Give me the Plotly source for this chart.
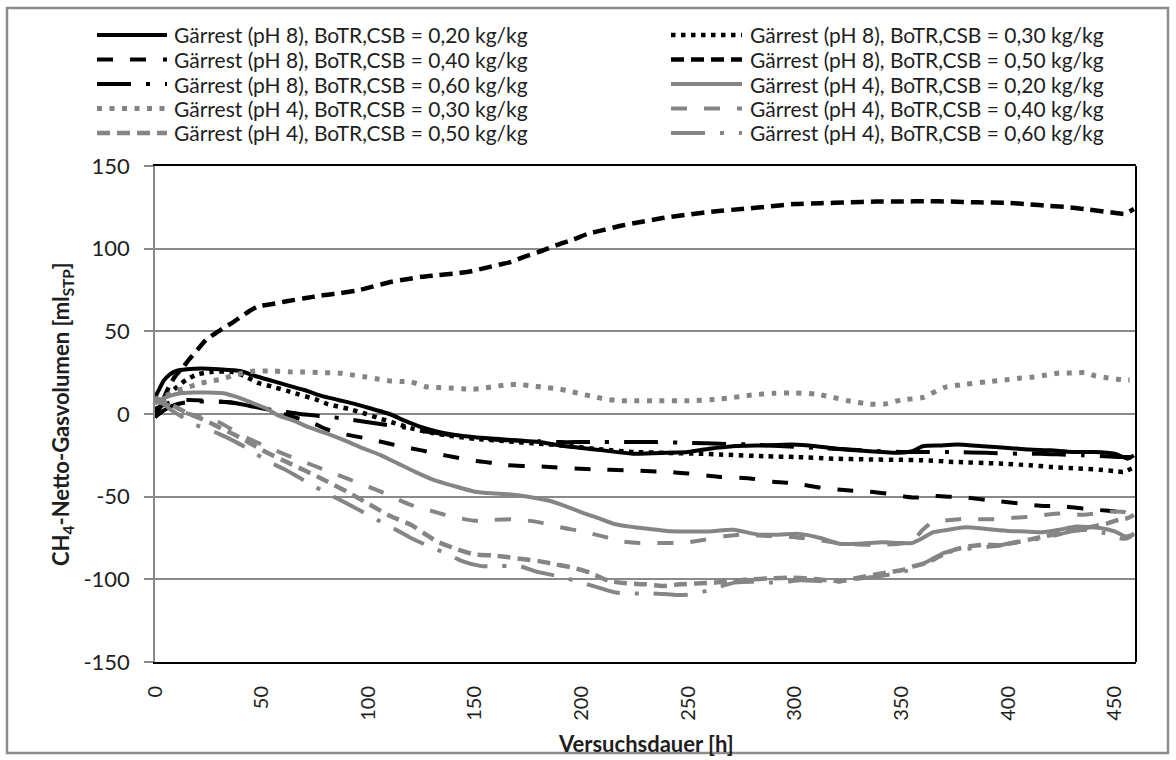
import plotly.graph_objects as go

# ---------------------------------------------------------------- data
# Versuchsdauer [h] and CH4 net gas volume [ml_STP] per batch

ph8_020_h = [0, 2, 4, 7, 10, 15, 22, 30, 40, 47, 55, 63, 70, 78, 86, 94, 102, 110, 117, 125,
             132, 140, 150, 160, 170, 180, 190, 200, 210, 224, 240, 250, 260, 271, 285, 299, 310,
             320, 335, 349, 355, 360, 368, 376, 388, 400, 410, 420, 430, 440, 450, 456, 459]
ph8_020_v = [10, 15, 20, 24, 26, 27, 27.5, 27, 26, 23, 20, 17, 14.5, 11, 8.5, 6, 3, 0, -4, -8,
             -10.5, -12.5, -14, -15, -16, -17, -19, -20.5, -22, -24, -23.5, -23, -21, -19.5, -19,
             -18.5, -19.5, -21, -22.5, -23.5, -22.5, -19.5, -19, -18.5, -19.5, -20.5, -21.5, -22,
             -23, -23, -24, -27, -25]

ph8_030_h = [0, 3, 6, 10, 15, 20, 27, 36, 42, 48, 55, 62, 67, 75, 81, 91, 99, 105, 111, 120,
             130, 140, 150, 165, 180, 195, 210, 225, 240, 255, 265, 287, 300, 318, 335, 349, 360,
             375, 396, 410, 420, 433, 443, 450, 454, 458]
ph8_030_v = [1, 6, 11, 16, 21, 24, 25.5, 25.5, 23, 19, 16.5, 14, 12, 9, 6, 3, 0, -2.5, -5, -8.5,
             -11.5, -13.5, -15, -16.5, -18, -19.5, -21.5, -23, -23.5, -24, -24.5, -25.6, -26, -27,
             -27.5, -27.7, -28, -29, -30, -31, -32, -33, -33.7, -34.5, -35, -33]

ph8_040_h = [0, 5, 10, 16, 25, 35, 44, 52, 60, 68, 75, 80, 88, 100, 110, 117, 125, 132, 140,
             148, 158, 165, 175, 185, 197, 207, 220, 230, 240, 250, 264, 279, 290, 300, 312, 323,
             335, 345, 352, 358, 362, 372, 380, 393, 405, 415, 427, 437, 447, 453, 458]
ph8_040_v = [3, 6, 8, 8.5, 8, 7, 5, 3, 0, -3, -6, -9, -12, -15, -18, -20, -22, -24, -26, -28,
             -29.5, -31, -31.5, -32, -33, -33.5, -34, -34.5, -35, -36, -38, -39, -41, -42, -44.5,
             -46, -47, -48.5, -50, -50.5, -49.5, -50, -50.5, -52.5, -54, -55.5, -56, -57.5, -58.5,
             -59, -57]

ph8_050_h = [0, 3, 6, 9.5, 13, 16, 20, 24, 28, 32, 36, 40, 44, 48, 55, 61, 70, 78, 86, 94,
             102, 111, 118, 125, 133, 141, 147, 152, 157, 162, 167, 173, 180, 188, 196, 203, 211,
             219, 227, 238, 250, 262, 275, 288, 300, 312, 325, 338, 350, 362, 372, 385, 400, 410,
             419, 429, 438, 448, 455, 457, 459]
ph8_050_v = [-2, 6, 15, 23, 28, 33, 39, 45, 48.5, 52, 55, 58.5, 62, 65, 66.5, 68, 70, 71.7, 73,
             74.5, 77, 80, 81.5, 83, 84, 85, 86, 87.5, 89, 90.5, 92, 95, 98, 102, 105.5, 109,
             111.5, 114, 116, 118.5, 120.6, 122.5, 124, 125.5, 127, 127.5, 128, 128.5, 128.5,
             128.7, 128.5, 128, 127.7, 126.8, 125.9, 125, 123.6, 122, 121, 122.5, 124]

ph8_060_h = [0, 4, 8, 14, 20, 28, 36, 44, 52, 60, 68, 76, 84, 92, 100, 108, 116, 124, 132, 140,
             150, 160, 170, 180, 190, 200, 210, 220, 235, 252, 265, 280, 295, 310, 325, 340, 350,
             360, 375, 390, 405, 415, 425, 435, 445, 452, 458]
ph8_060_v = [-2, 2, 5, 7, 7.5, 7.5, 7, 5, 3, 1.5, 0, -1, -2, -3.5, -5, -6.5, -8, -10, -11.5, -13,
             -14.5, -15.5, -16, -16.5, -17, -17, -17, -17, -17, -17.5, -18, -18.5, -19.5, -20.5,
             -21.5, -22.5, -23, -23, -23, -23.5, -24, -24, -24.5, -25, -25.5, -26, -26]

ph4_020_h = [0, 3, 7, 12, 18, 25, 32, 39, 45, 52, 58, 65, 72, 81, 90, 98, 106, 114, 122, 130,
             140, 150, 158, 166, 175, 185, 193, 200, 208, 216, 225, 232, 240, 250, 260, 271, 283,
             292, 302, 312, 321, 330, 341, 349, 355, 360, 365, 372, 380, 390, 400, 408, 416, 424,
             432, 443, 450, 455, 459]
ph4_020_v = [6, 9, 11, 12.5, 13, 13, 12.5, 10, 7, 3.5, -1, -4, -8, -12, -16.5, -21, -25, -30,
             -35, -39.5, -43.5, -47, -48, -48.5, -50, -52.5, -56, -59.5, -63, -66.7, -68.5, -69.5,
             -70.7, -71, -71, -70, -73, -73, -72.5, -75, -78.5, -78.5, -77.6, -78, -78, -75, -71.5,
             -70, -68.5, -69.5, -70.7, -71, -71.5, -70, -68, -69, -71, -74, -73]

ph4_030_h = [0, 5, 10, 15, 20, 26, 31, 37, 42, 47, 55, 63, 70, 78, 86, 93, 99, 105, 110, 115,
             120, 127, 133, 138, 144, 149, 155, 161, 166, 171, 177, 183, 190, 194, 200, 206, 211,
             218, 223, 235, 250, 265, 280, 290, 300, 310, 318, 325, 335, 342, 350, 360, 370, 380,
             390, 400, 406, 412, 418, 424, 430, 436, 441, 447, 453, 457]
ph4_030_v = [8, 11, 14, 16, 18, 20, 21, 23.5, 25, 26, 26, 25.5, 25.4, 25, 24.8, 23.5, 22.4, 21,
             20, 19.7, 19.4, 16.5, 16, 15.8, 15.3, 15, 15.8, 17, 17.8, 17.8, 17, 16, 15, 14, 12,
             10.5, 9, 8, 8, 8, 8, 9, 11.5, 12.5, 12.7, 12, 10, 8, 6, 6, 8.5, 10, 16, 18, 19.5,
             20.8, 21.8, 22.4, 23.6, 24.8, 24.8, 25, 23, 21.8, 20.8, 20.5]

ph4_040_h = [0, 5, 10, 16, 22, 30, 37, 44, 52, 60, 67, 74, 82, 90, 98, 105, 112, 120, 128, 135,
             143, 150, 158, 167, 175, 182, 190, 200, 210, 219, 227, 235, 243, 250, 258, 267, 275,
             283, 292, 300, 310, 320, 330, 340, 349, 355, 360, 364, 370, 377, 385, 393, 400, 405,
             412, 420, 427, 435, 442, 449, 455, 458]
ph4_040_v = [8, 6, 3, 0, -2, -5, -10, -15, -19.5, -24, -27.5, -31, -35, -39, -43, -46.5, -50.5,
             -55, -58, -60.6, -63, -64.6, -64, -63.6, -64.5, -66, -68.5, -71, -74, -77, -78, -78,
             -78, -77.6, -76, -74, -73, -73.5, -74, -74.5, -76, -78, -79, -79, -78.5, -77, -70,
             -66, -64.5, -63.6, -63.6, -63.6, -63, -62.6, -62, -60.6, -60, -61, -60, -59, -59.5,
             -62]

ph4_050_h = [0, 5, 10, 16, 22, 30, 38, 45, 52, 60, 70, 81, 90, 101, 110, 120, 126, 132, 141,
             150, 158, 166, 174, 180, 188, 196, 204, 213, 221, 230, 238, 246, 254, 262, 270, 279,
             288, 297, 306, 315, 322, 330, 338, 345, 350, 356, 362, 368, 375, 382, 390, 396, 402,
             410, 417, 425, 432, 440, 447, 452, 456, 459]
ph4_050_v = [10, 7, 4, 0, -3, -8, -13, -18, -23, -28, -34, -41, -47, -55, -61.5, -67, -72, -77,
             -81.5, -85, -85.5, -86.7, -88, -89, -91, -93, -96, -101, -102.4, -103, -104, -103,
             -102.5, -102, -101, -100, -99.5, -99, -99.5, -100.5, -101, -99, -97, -95.5, -94.5,
             -92, -90, -86, -82, -80, -79, -79.5, -78, -76, -74, -72, -70, -68, -66, -64, -63, -61]

ph4_060_h = [0, 4, 8, 13, 18, 24, 30, 38, 45, 52, 60, 67, 75, 83, 92, 100, 107, 114, 120, 125,
             130, 136, 144, 153, 162, 171, 178, 185, 192, 200, 208, 216, 225, 233, 240, 246, 252,
             260, 266, 272, 280, 287, 295, 303, 311, 320, 330, 338, 345, 352, 358, 364, 370, 378,
             385, 393, 400, 410, 420, 430, 438, 445, 450, 454, 457, 459]
ph4_060_v = [9, 6, 2, -2, -6, -9, -12, -17, -22, -28, -33, -38, -44, -49.5, -55.5, -61, -66,
             -70.7, -75, -78, -81, -84, -89, -92, -92, -92, -95, -97, -99, -102, -105, -108,
             -108.5, -108.5, -109, -109.5, -109, -106.5, -104, -102, -101.5, -102, -101.5, -100.5,
             -101, -101.5, -99.5, -98.5, -97, -95, -92, -88, -84, -82, -81, -80, -78.5, -76.5,
             -74, -71, -70, -72, -74, -75.5, -74.5, -72]

series_labels = [
    "Gärrest (pH 8), BoTR,CSB = 0,20 kg/kg",
    "Gärrest (pH 8), BoTR,CSB = 0,30 kg/kg",
    "Gärrest (pH 8), BoTR,CSB = 0,40 kg/kg",
    "Gärrest (pH 8), BoTR,CSB = 0,50 kg/kg",
    "Gärrest (pH 8), BoTR,CSB = 0,60 kg/kg",
    "Gärrest (pH 4), BoTR,CSB = 0,20 kg/kg",
    "Gärrest (pH 4), BoTR,CSB = 0,30 kg/kg",
    "Gärrest (pH 4), BoTR,CSB = 0,40 kg/kg",
    "Gärrest (pH 4), BoTR,CSB = 0,50 kg/kg",
    "Gärrest (pH 4), BoTR,CSB = 0,60 kg/kg",
]
series_h = [ph8_020_h, ph8_030_h, ph8_040_h, ph8_050_h, ph8_060_h,
            ph4_020_h, ph4_030_h, ph4_040_h, ph4_050_h, ph4_060_h]
series_v = [ph8_020_v, ph8_030_v, ph8_040_v, ph8_050_v, ph8_060_v,
            ph4_020_v, ph4_030_v, ph4_040_v, ph4_050_v, ph4_060_v]

x_tick_vals = [0, 50, 100, 150, 200, 250, 300, 350, 400, 450]
x_tick_text = ["0", "50", "100", "150", "200", "250", "300", "350", "400", "450"]
y_tick_vals = [-150, -100, -50, 0, 50, 100, 150]
y_tick_text = ["-150", "-100", "-50", "0", "50", "100", "150"]

# ---------------------------------------------------------------- styles
FONT = "Lato, Carlito, Calibri, sans-serif"
TEXT = "#1e1e1e"
BLACK = "#000000"
GRAY = "#858585"
AXIS_GRAY = "#8a8a8a"

DOT_BLACK = "4.5px,5.5px"
DOT_GRAY = "5px,7.5px"
DASH = "13px,7px"
LONGDASH = "16px,17px"
LONGDASHDOT = "34px,15px,4px,15px"

line_styles = [
    dict(color=BLACK, width=4, dash="solid"),
    dict(color=BLACK, width=4.5, dash=DOT_BLACK),
    dict(color=BLACK, width=4, dash=LONGDASH),
    dict(color=BLACK, width=4.5, dash=DASH),
    dict(color=BLACK, width=4, dash=LONGDASHDOT),
    dict(color=GRAY, width=4, dash="solid"),
    dict(color=GRAY, width=5, dash=DOT_GRAY),
    dict(color=GRAY, width=4, dash=LONGDASH),
    dict(color=GRAY, width=4.5, dash=DASH),
    dict(color=GRAY, width=4, dash=LONGDASHDOT),
]

# ---------------------------------------------------------------- geometry helpers
W, H = 1176, 760
ML, MR, MT, MB = 155, 40, 166, 98
PW, PH = W - ML - MR, H - MT - MB


def paper_x(px):
    return (px - ML) / PW


def paper_y(py):
    return (H - MB - py) / PH


fig = go.Figure()

for h, v, name, style in zip(series_h, series_v, series_labels, line_styles):
    fig.add_trace(go.Scatter(
        x=h, y=v, name=name, mode="lines",
        line=dict(color=style["color"], width=style["width"], dash=style["dash"],
                  shape="spline", smoothing=0.6),
        showlegend=False,
    ))

# ---------------------------------------------------------------- legend (two columns)
shapes = []
annotations = []
col_sample_x = [(97, 167), (671, 742)]
col_text_x = [172, 748]
row_y = [35, 59.5, 84, 108.5, 133]
for i, (name, style) in enumerate(zip(series_labels, line_styles)):
    col, row = i % 2, i // 2
    y = paper_y(row_y[row])
    x0, x1 = col_sample_x[col]
    shapes.append(dict(
        type="line", xref="paper", yref="paper",
        x0=paper_x(x0), x1=paper_x(x1), y0=y, y1=y,
        line=dict(color=style["color"], width=style["width"], dash=style["dash"]),
    ))
    annotations.append(dict(
        xref="paper", yref="paper", x=paper_x(col_text_x[col]), y=y,
        xanchor="left", yanchor="middle", showarrow=False, text=name,
        font=dict(family=FONT, size=21, color=TEXT),
    ))

# right border of the plot area
shapes.append(dict(type="line", xref="paper", yref="paper", x0=1, x1=1, y0=0, y1=1,
                   line=dict(color=BLACK, width=2)))
# outer chart frame
shapes.append(dict(type="rect", xref="paper", yref="paper",
                   x0=paper_x(7), x1=paper_x(1168), y0=paper_y(753), y1=paper_y(8),
                   line=dict(color="#8c8c8c", width=2.5)))

# axis titles
annotations.append(dict(
    xref="paper", yref="paper", x=paper_x(62), y=0.5, textangle=-90,
    xanchor="center", yanchor="middle", showarrow=False,
    text="<b>CH<sub>4</sub>-Netto-Gasvolumen [ml<sub>STP</sub>]</b>",
    font=dict(family=FONT, size=22, color=TEXT),
))
annotations.append(dict(
    xref="paper", yref="paper", x=0.5, y=paper_y(743),
    xanchor="center", yanchor="middle", showarrow=False,
    text="<b>Versuchsdauer [h]</b>",
    font=dict(family=FONT, size=22, color=TEXT),
))

fig.update_layout(
    width=W, height=H,
    margin=dict(l=ML, r=MR, t=MT, b=MB, pad=0),
    paper_bgcolor="white", plot_bgcolor="white",
    showlegend=False,
    font=dict(family=FONT, color=TEXT),
    xaxis=dict(
        range=[0, 460], tickvals=x_tick_vals, ticktext=x_tick_text,
        tickangle=-90, ticks="", showgrid=False, zeroline=False,
        showline=True, linecolor=BLACK, linewidth=2, mirror=True,
        tickfont=dict(family=FONT, size=20, color=TEXT), ticklabelstandoff=14,
    ),
    # horizontal axis line at y = 0 with crossing major ticks and minor ticks below
    xaxis2=dict(
        overlaying="x", anchor="free", position=0.5, range=[0, 460],
        tickvals=x_tick_vals, ticks="outside", ticklen=8, tickwidth=1.5, tickcolor=AXIS_GRAY,
        minor=dict(dtick=10, tick0=0, ticks="outside", ticklen=7, tickwidth=1.5,
                   tickcolor=AXIS_GRAY, showgrid=False),
        showticklabels=False, showgrid=False, zeroline=False,
        showline=True, linecolor=AXIS_GRAY, linewidth=1.5, layer="below traces",
    ),
    xaxis3=dict(
        overlaying="x", anchor="free", position=0.5, range=[0, 460],
        tickvals=x_tick_vals, ticks="inside", ticklen=8, tickwidth=1.5, tickcolor=AXIS_GRAY,
        showticklabels=False, showgrid=False, zeroline=False, showline=False,
        layer="below traces",
    ),
    yaxis=dict(
        range=[-150, 150], tickvals=y_tick_vals, ticktext=y_tick_text,
        ticks="outside", ticklen=9, tickwidth=1.5,
        tickcolor=AXIS_GRAY, showgrid=True, gridcolor=AXIS_GRAY, gridwidth=1.5,
        zeroline=False, showline=True, linecolor=AXIS_GRAY, linewidth=1.5,
        tickfont=dict(family=FONT, size=22, color=TEXT), ticklabelstandoff=10,
    ),
    shapes=shapes,
    annotations=annotations,
)

fig.write_html("out.html")
